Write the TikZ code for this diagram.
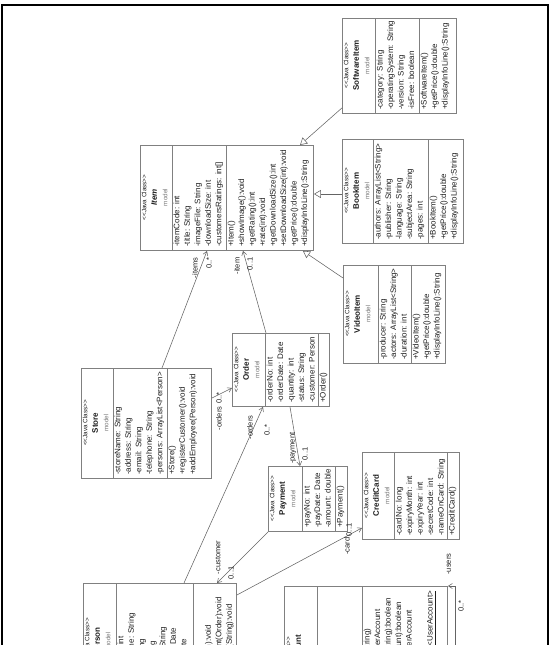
\documentclass[tikz,border=0pt]{standalone}
\usepackage{fontspec}
\setmainfont{Liberation Sans}
\usetikzlibrary{arrows.meta,calc}
\definecolor{boxgray}{RGB}{128,128,128}
\definecolor{linegray}{RGB}{100,100,100}
\definecolor{txtgray}{RGB}{30,30,30}
\definecolor{mdlgray}{RGB}{120,120,120}
\newcommand{\jcls}{{\fontsize{6.3}{7}\selectfont <{}<Java Class>{}>}}
\newcommand{\mdl}{{\fontsize{6.3}{7}\selectfont\color{mdlgray} model}}
\begin{document}
\begin{tikzpicture}[x=1pt,y=1pt,yscale=-1,
  cls/.style={draw=boxgray, fill=white, line width=0.9pt, inner sep=0, anchor=north west},
  sep/.style={draw=boxgray, line width=0.7pt},
  hdr/.style={rotate=90, anchor=north, align=center, inner sep=1pt, font=\fontsize{8}{10.5}\selectfont, text=txtgray},
  mem/.style={rotate=90, anchor=north west, align=left, inner sep=1pt, font=\fontsize{8}{10.5}\selectfont, text=txtgray},
  assoc/.style={draw=linegray, line width=0.55pt, -{Straight Barb[length=4pt,width=5pt]}},
  gen/.style={draw=linegray, line width=0.55pt, -{Triangle[open,length=7pt,width=8pt,fill=white]}},
  role/.style={rotate=90, anchor=east, inner sep=0.5pt, font=\fontsize{7.5}{8}\selectfont, text=txtgray}]
\useasboundingbox (0,0) rectangle (555,645);
\clip (0,0) rectangle (555,645);

%Frame
\draw [line width=1.2pt] (2,645) -- (2,5) -- (548,5) -- (548,645);

%Class: SoftwareItem
\node [cls, minimum width=114, minimum height=95] (soft) at (342,18) {};
\draw [sep] (375,18) -- (375,113);
\draw [sep] (419,18) -- (419,113);
\node [hdr] (softhd) at (342.5,65.5) {\jcls\\{\bfseries SoftwareItem}\\\mdl};
\node [mem] (softatt) at (375.5,111) {-category: String\\-operatingSystem: String\\-version: String\\-isFree: boolean};
\node [mem] (softop) at (419.5,111) {+SoftwareItem()\\+getPrice():double\\+displayInfoLine():String};

%Class: BookItem
\node [cls, minimum width=121, minimum height=104] (book) at (342,139) {};
\draw [sep] (373,139) -- (373,243);
\draw [sep] (428,139) -- (428,243);
\node [hdr] (bookhd) at (342.5,191) {\jcls\\{\bfseries BookItem}\\\mdl};
\node [mem] (bookatt) at (373.5,241) {-authors: ArrayList<String>\\-publisher: String\\-language: String\\-subjectArea: String\\-pages: int};
\node [mem] (bookop) at (428.5,241) {+BookItem()\\+getPrice():double\\+displayInfoLine():String};

%Class: VideoItem
\node [cls, minimum width=102, minimum height=98] (video) at (343,265) {};
\draw [sep] (378,265) -- (378,363);
\draw [sep] (411,265) -- (411,363);
\node [hdr] (videohd) at (343.5,314) {\jcls\\{\bfseries VideoItem}\\\mdl};
\node [mem] (videoatt) at (378.5,361) {-producer: String\\-actors: ArrayList<String>\\-duration: int};
\node [mem] (videoop) at (411.5,361) {+VideoItem()\\+getPrice():double\\+displayInfoLine():String};

%Class: Item
\node [cls, minimum width=173, minimum height=105] (item) at (140,145) {};
\draw [sep] (172,145) -- (172,250);
\draw [sep] (226,145) -- (226,250);
\node [hdr] (itemhd) at (140.5,197.5) {\jcls\\{\bfseries\itshape Item}\\\mdl};
\node [mem] (itematt) at (172.5,248) {-itemCode: int\\-title: String\\-imageFile: String\\-downloadSize: int\\-customersRatings: int[]};
\node [mem] (itemop) at (226.5,248) {+Item()\\+showImage():void\\+getRating():int\\+rate(int):void\\+getDownloadSize():int\\+setDownloadSize(int):void\\+getPrice():double\\+displayInfoLine():String};

%Class: Order
\node [cls, minimum width=97, minimum height=73] (order) at (232,333) {};
\draw [sep] (265,333) -- (265,406);
\draw [sep] (318,333) -- (318,406);
\node [hdr] (orderhd) at (232.5,369.5) {\jcls\\{\bfseries Order}\\\mdl};
\node [mem] (orderatt) at (265.5,404) {-orderNo: int\\-orderDate: Date\\-quantity: int\\-status: String\\-customer: Person};
\node [mem] (orderop) at (318.5,404) {+Order()};

%Class: Store
\node [cls, minimum width=130, minimum height=110] (store) at (81,368) {};
\draw [sep] (113,368) -- (113,478);
\draw [sep] (167,368) -- (167,478);
\node [hdr] (storehd) at (81.5,423) {\jcls\\{\bfseries Store}\\\mdl};
\node [mem] (storeatt) at (113.5,476) {-storeName: String\\-address: String\\-email: String\\-telephone: String\\-persons: ArrayList<Person>};
\node [mem] (storeop) at (167.5,476) {+Store()\\+registerCustomer():void\\+addEmployee(Person):void};

%Class: Payment
\node [cls, minimum width=79, minimum height=65] (payment) at (268,466) {};
\draw [sep] (302,466) -- (302,531);
\draw [sep] (335,466) -- (335,531);
\node [hdr] (paymenthd) at (268.5,498.5) {\jcls\\{\bfseries Payment}\\\mdl};
\node [mem] (paymentatt) at (302.5,529) {+payNo: int\\-payDate: Date\\-amount: double};
\node [mem] (paymentop) at (335.5,529) {+Payment()};

%Class: CreditCard
\node [cls, minimum width=97, minimum height=87] (card) at (362,452) {};
\draw [sep] (394,452) -- (394,539);
\draw [sep] (447,452) -- (447,539);
\node [hdr] (cardhd) at (362.5,495.5) {\jcls\\{\bfseries CreditCard}\\\mdl};
\node [mem] (cardatt) at (394.5,537) {-cardNo: long\\-expiryMonth: int\\-expiryYear: int\\-secretCode: int\\-nameOnCard: String};
\node [mem] (cardop) at (447.5,537) {+CreditCard()};

%Class: Person
\node [cls, minimum width=153, minimum height=116] (person) at (83,583) {};
\draw [sep] (116,583) -- (116,699);
\draw [sep] (193,583) -- (193,699);
\node [hdr] (personhd) at (83.5,641) {\jcls\\{\bfseries Person}\\\mdl};
\node [mem] (personatt) at (116.5,697) {-customerNo: int\\-customerName: String\\-address: String\\-country: String\\-postalCode: String\\-registeredAt: Date\\-lastLogin: Date};
\node [mem] (personop) at (193.5,697) {+Person()\\+buyItem(Item):void\\+makePayment(Order):void\\+viewOptions(String):void};

%Class: UserAccount
\node [cls, minimum width=163, minimum height=148] (account) at (284,586) {};
\draw [sep] (317,586) -- (317,734);
\draw [sep] (362,586) -- (362,734);
\node [hdr] (accounthd) at (284.5,660) {\jcls\\{\bfseries UserAccount}\\\mdl};
\node [mem] (accountatt) at (317.5,732) {-username: String\\-password: String\\-person: Person};
\node [mem] (accountop) at (362.5,732) {+UserAccount(String, String)\\+login(String, String):UserAccount\\+setPassword(String, String):boolean\\+addAccount(UserAccount):boolean\\+findAccount(String):UserAccount\\+toString():String\\\underline{+getAllUsers():ArrayList<UserAccount>}};

%Generalizations
\draw [gen] ($(soft.south west)+(0,-6)$) -- ($(item.north west)+(160,0)$);
\draw [gen] ($(book.north west)+(0,55)$) -- ($(item.north east)+(0,49)$);
\draw [gen] ($(video.north west)+(0,13)$) -- ($(item.south east)+(-11,0)$);

%Associations
\draw [assoc] ($(store.north west)+(81,0)$) -- ($(item.south west)+(67,0)$);
\draw [assoc] ($(order.north west)+(34,0)$) -- ($(item.south west)+(103,0)$);
\draw [assoc] ($(store.north east)+(0,30)$) -- ($(order.north west)+(0,55)$);
\draw [assoc] ($(person.north west)+(101,0)$) -- ($(order.south west)+(31,0)$);
\draw [assoc] (payment.south west) -- ($(person.north west)+(134,0)$);
\draw [assoc] ($(person.north east)+(0,12)$) -- ($(card.south west)+(0,-12)$);
\draw [assoc] ($(order.south west)+(58,0)$) -- ($(payment.north west)+(32,0)$);
\coordinate (usersend) at (455,645);
\draw [assoc] (usersend) |- (account.north east);

%Role labels
\node [role] (itemsrl) at (195,257) {-items};
\node [role] (itemsml) at (209,257) {0..*};
\node [role] (itemrl) at (237,257) {-item};
\node [role] (itemml) at (250,257) {0..1};
\node [role] (ordersrl) at (219,406) {-orders};
\node [role] (ordersml) at (219,392) {0..*};
\node [role] (custordrl) at (250,415) {-orders};
\node [role] (custordml) at (267,424) {0..*};
\node [role] (paymentrl) at (293,432) {-payment};
\node [role] (paymentml) at (305,447) {0..1};
\node [role] (customerrl) at (218,540) {-customer};
\node [role] (customerml) at (231,566) {0..1};
\node [role] (cardrl) at (347,537) {-card};
\node [role] (cardml) at (349,523) {0..1};
\node [role] (usersrl) at (449,553) {-users};
\node [role] (usersml) at (461,600) {0..*};

\end{tikzpicture}
\end{document}
